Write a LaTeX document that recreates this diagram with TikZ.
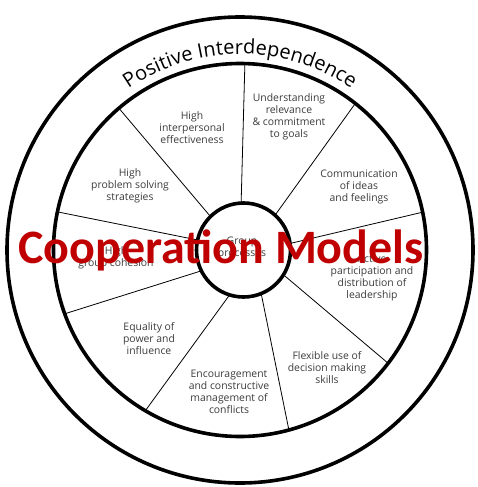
\documentclass[tikz,border=0pt]{standalone}
\usepackage{fontspec}
\usetikzlibrary{decorations.text,calc}
\newfontfamily\lblfont{Open Sans}
\newfontfamily\ttlfont{Carlito}
\definecolor{titlered}{RGB}{192,0,0}
\definecolor{labelgray}{RGB}{60,60,60}
\tikzset{
  ring/.style={line width=3.6pt},
  spoke/.style={line width=0.8pt},
  lbl/.style={align=center, text=labelgray, font=\lblfont\fontsize{10.4}{12}\selectfont, inner sep=0pt},
}
\begin{document}
\begin{tikzpicture}[x=1pt,y=1pt]
\useasboundingbox (0,0) rectangle (477,-487);
\fill[white] (0,0) rectangle (477,-487);
\coordinate (c) at (240,-250);
\coordinate (ci) at (243.5,-250);
% rings
\draw[ring] (c) circle[radius=233];
\draw[ring] (c) circle[radius=186.5];
\draw[ring] (ci) circle[radius=47];
% spokes
\foreach \a/\b in {88.5/92.9, 51.8/47.8, 11.7/8, -37.4/-31.8, -74.8/-67.9, -120.5/-107.2, -160/-153.7, 168.2/167.7, 130.5/134.6}{
  \draw[spoke] ($(ci)+(\b:47)$) -- ($(c)+(\a:186.5)$);
}
% arc text
\path[decorate, decoration={text along path, text align=center,
  text={|\lblfont\fontsize{20}{20}\selectfont\color{black}|Positive Interdependence}}]
  ($(c)+(140:196)$) arc[start angle=140, end angle=40, radius=196];
% labels
\node[lbl] (l1) at (192,-128) {High\\interpersonal\\effectiveness};
\node[lbl] (l2) at (289,-117) {Understanding\\relevance\\\& commitment\\to goals};
\node[lbl] (l3) at (359,-187) {Communication\\of ideas\\and feelings};
\node[lbl] (l4) at (130,-186) {High\\problem solving\\strategies};
\node[lbl] (l5) at (116,-257.5) {High\\group cohesion};
\node[lbl] (l6) at (372,-278) {Active\\participation and\\distribution of\\leadership};
\node[lbl] (l7) at (242,-248) {Group\\processes};
\node[lbl] (l8) at (149,-339) {Equality of\\power and\\influence};
\node[lbl] (l9) at (229,-392) {Encouragement\\and constructive\\management of\\conflicts};
\node[lbl] (l10) at (327,-368) {Flexible use of\\decision making\\skills};
% title
\node[anchor=base, inner sep=0pt, text=titlered, font=\ttlfont\bfseries\fontsize{48}{48}\selectfont] (title) at (221,-263) {Cooperation Models};
\end{tikzpicture}
\end{document}
